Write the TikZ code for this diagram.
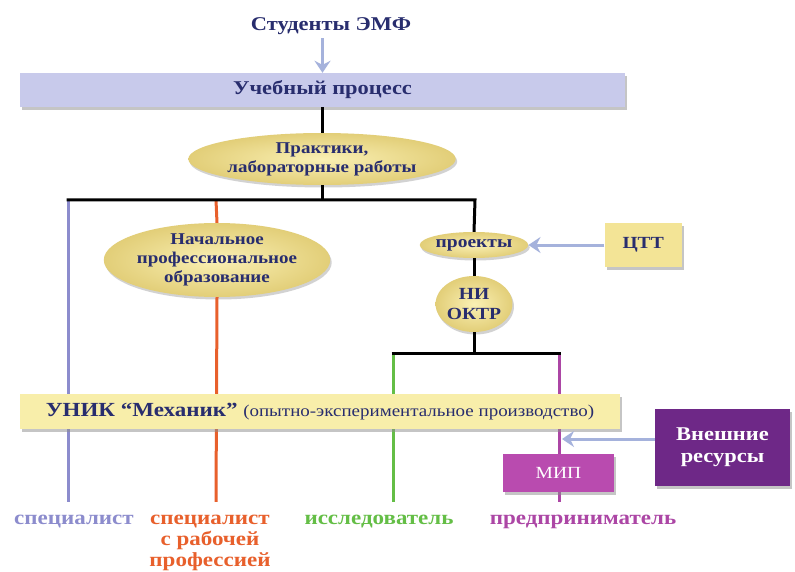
\documentclass[tikz,border=0pt]{standalone}
\usepackage{fontspec}
\setmainfont{Liberation Serif}[FakeStretch=1.15]
\usepackage{tikz}
\usetikzlibrary{arrows.meta, positioning, shapes.geometric, shadows}
\definecolor{navyText}{RGB}{40,45,110}
\definecolor{procFill}{RGB}{200,202,235}
\definecolor{ovalLight}{RGB}{250,240,180}
\definecolor{ovalDark}{RGB}{226,206,120}
\definecolor{unikFill}{RGB}{248,238,170}
\definecolor{cttFill}{RGB}{243,228,150}
\definecolor{mipFill}{RGB}{185,75,175}
\definecolor{extFill}{RGB}{110,40,135}
\definecolor{feedBlue}{RGB}{165,178,220}
\definecolor{specBlue}{RGB}{140,140,205}
\definecolor{workOrange}{RGB}{232,96,44}
\definecolor{resGreen}{RGB}{100,190,70}
\definecolor{entPurple}{RGB}{172,70,165}

\begin{document}
\begin{tikzpicture}[
    x=1pt, y=-1pt,
    box/.style={rectangle, align=center, inner sep=2pt, text=navyText,
      drop shadow={shadow xshift=2pt, shadow yshift=-3pt, fill=black!45}},
    oval/.style={ellipse, align=center, inner sep=0pt, text=navyText,
      inner color=ovalLight, outer color=ovalDark,
      font=\fontsize{16.5}{19}\selectfont\bfseries,
      drop shadow={shadow xshift=1.5pt, shadow yshift=-2.5pt, fill=black!35}},
    link/.style={line width=3pt},
    feed/.style={-{Stealth[length=12pt, width=16pt, inset=4pt]}, line width=3pt, draw=feedBlue},
    outcome/.style={font=\fontsize{20}{21}\selectfont\bfseries, align=center, inner sep=0pt, anchor=base}
  ]
  \useasboundingbox[fill=white] (0,0) rectangle (795,572);

  % Top: students and study process
  \node[font=\fontsize{19.5}{22}\selectfont\bfseries, text=navyText] (stud) at (331,26) {Студенты ЭМФ};
  \node[box, fill=procFill, minimum width=605pt, minimum height=34pt, font=\fontsize{19.5}{22}\selectfont\bfseries] (proc) at (322.5,90) {Учебный процесс};
  \node[oval, minimum width=245pt, minimum height=52pt] (prac) at (322,159) {Практики,\\лабораторные работы};

  % Middle: branches
  \node[oval, minimum width=172pt, minimum height=56pt] (npo) at (217,260) {Начальное\\профессиональное\\образование};
  \node[oval, minimum width=107pt, minimum height=26pt, font=\fontsize{17}{19}\selectfont\bfseries] (proj) at (474,245) {проекты};
  \node[box, fill=cttFill, minimum width=77pt, minimum height=43pt, font=\fontsize{17}{19}\selectfont\bfseries, right=76pt of proj] (ctt) {ЦТТ};
  \node[oval, minimum width=75pt, minimum height=56pt, font=\fontsize{17}{20}\selectfont\bfseries] (nir) at (474,304) {НИ\\ОКТР};

  % Bottom: outcomes
  \node[outcome, text=specBlue, text height=14pt, inner ysep=8pt] (spec) at (74,524) {специалист};
  \node[outcome, text=workOrange] (specw) at (210,566) {специалист\\с рабочей\\профессией};
  \node[outcome, text=resGreen] (res) at (379,524) {исследователь};
  \node[outcome, text=entPurple] (ent) at (583,524) {предприниматель};

  % Branch points
  \coordinate (barL) at (68,200);
  \coordinate (barO) at (216,200);
  \coordinate (barR) at (475,200);
  \coordinate (bar2L) at (393,353);
  \coordinate (bar2R) at (559,353);

  % Coloured tracks
  \draw[link, draw=specBlue] (barL) -- (barL |- spec.north);
  \draw[link, draw=workOrange] (barO) -- (npo.north);
  \draw[link, draw=workOrange] (npo.south) -- (barO |- spec.north);
  \draw[link, draw=resGreen] (bar2L) -- (bar2L |- spec.north);
  \draw[link, draw=entPurple] (bar2R) -- (bar2R |- spec.north);

  % Black tree
  \draw[link] (proc.south -| prac) -- (prac.north);
  \draw[link] (prac.south) -- (prac.south |- barL);
  \draw[link] ([xshift=-1.5pt]barL) -- (barR) -- (proj.north);
  \draw[link] (proj.south) -- (nir.north);
  \draw[link] (nir.south) -- (nir.south |- bar2L);
  \draw[link] ([xshift=-1.5pt]bar2L) -- ([xshift=1.5pt]bar2R);

  % Production level
  \node[box, fill=unikFill, minimum width=600pt, minimum height=35pt, font=\fontsize{20}{22}\selectfont\bfseries] (unik) at (320,411.5) {УНИК “Механик” {\fontsize{16.5}{18}\selectfont\mdseries (опытно-экспериментальное производство)}};
  \node[box, fill=mipFill, text=white, minimum width=111pt, minimum height=38pt, font=\fontsize{17}{19}\selectfont] (mip) at (558.5,473) {МИП};
  \node[box, fill=extFill, text=white, minimum width=135pt, minimum height=77pt, font=\fontsize{19.5}{22}\selectfont\bfseries] (ext) at (722.5,447.5) {Внешние\\ресурсы};

  % Inputs
  \coordinate (mipIn) at (562,439);
  \draw[feed] (stud.south -| proc) -- (proc.north);
  \draw[feed] (ctt.west |- proj) -- (proj.east);
  \draw[feed] (ext.west |- mipIn) -- (mipIn);
\end{tikzpicture}
\end{document}
